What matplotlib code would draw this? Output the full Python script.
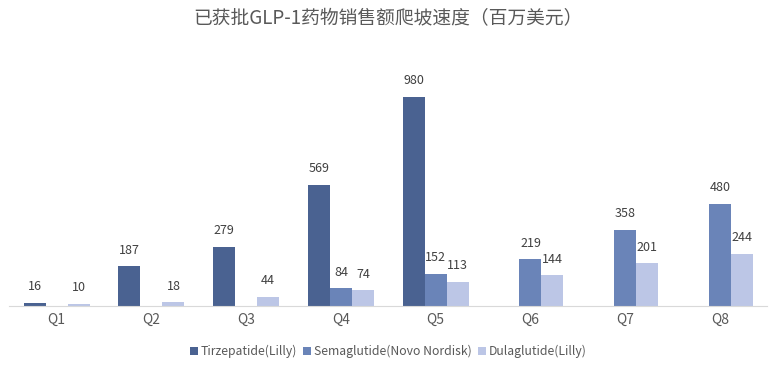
import numpy as np
import matplotlib.pyplot as plt

plt.rcParams['font.family'] = ['Noto Sans CJK SC', 'DejaVu Sans']

quarters = ["Q1", "Q2", "Q3", "Q4", "Q5", "Q6", "Q7", "Q8"]
tirzepatide = [16, 187, 279, 569, 980, None, None, None]
semaglutide = [None, None, None, 84, 152, 219, 358, 480]
dulaglutide = [10, 18, 44, 74, 113, 144, 201, 244]

names = ["Tirzepatide(Lilly)", "Semaglutide(Novo Nordisk)", "Dulaglutide(Lilly)"]
colors = ["#4A6291", "#6A84B8", "#BCC6E6"]

fig = plt.figure(figsize=(7.79, 3.67), dpi=100)
ax = fig.add_axes([0.012, 0.166, 0.973, 0.698])

x = np.arange(len(quarters))
w = 0.232
for i, (vals, name, c) in enumerate(zip([tirzepatide, semaglutide, dulaglutide], names, colors)):
    xs = [xx + (i - 1) * w for xx, v in zip(x, vals) if v is not None]
    vs = [v for v in vals if v is not None]
    ax.bar(xs, vs, width=w, color=c, label=name)
    for xx, v in zip(xs, vs):
        ax.text(xx, v + 45, str(v), ha="center", va="bottom", fontsize=9, color="#404040")

ax.set_xlim(-0.5, len(quarters) - 0.5)
ax.set_ylim(0, 1200)
ax.set_yticks([])
ax.set_xticks(x)
ax.set_xticklabels(quarters, fontsize=10, color="#595959")
ax.tick_params(axis="x", length=0, pad=5)
for s in ["top", "right", "left"]:
    ax.spines[s].set_visible(False)
ax.spines["bottom"].set_color("#D9D9D9")

fig.text(0.498, 0.95, "已获批GLP-1药物销售额爬坡速度（百万美元）", ha="center", va="center",
         fontsize=13.5, color="#595959")

ax.legend(loc="center", bbox_to_anchor=(0.5, -0.178), ncol=3, frameon=False,
          fontsize=8.8, handlelength=0.65, handleheight=0.65, handletextpad=0.25,
          columnspacing=0.5, labelcolor="#595959")

fig.savefig("out.png", dpi=100)
